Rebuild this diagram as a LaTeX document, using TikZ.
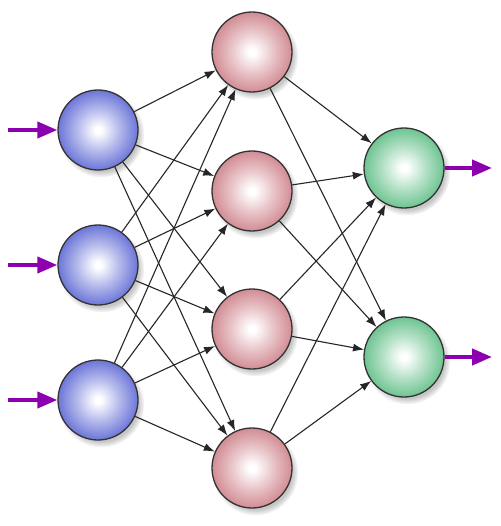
\documentclass[tikz,border=0pt]{standalone}
\usetikzlibrary{arrows.meta,shadows}
\definecolor{nb}{RGB}{108,118,216}
\definecolor{np}{RGB}{210,140,148}
\definecolor{ng}{RGB}{110,196,145}
\definecolor{pur}{RGB}{140,0,175}
\pgfdeclareradialshading{sblue}{\pgfpoint{0bp}{0bp}}{color(0bp)=(white); color(2bp)=(white); color(13bp)=(nb!50!white); color(25bp)=(nb); color(50bp)=(nb)}
\pgfdeclareradialshading{spink}{\pgfpoint{0bp}{0bp}}{color(0bp)=(white); color(2bp)=(white); color(13bp)=(np!50!white); color(25bp)=(np); color(50bp)=(np)}
\pgfdeclareradialshading{sgreen}{\pgfpoint{0bp}{0bp}}{color(0bp)=(white); color(2bp)=(white); color(13bp)=(ng!50!white); color(25bp)=(ng); color(50bp)=(ng)}
\tikzset{
  neuron/.style={circle, minimum size=80pt, inner sep=0pt, draw=black!80, line width=1.3pt,
    circular drop shadow={shadow xshift=3pt, shadow yshift=-4pt, opacity=0.45, shadow scale=1.08}},
  inp/.style={neuron, shading=sblue},
  hid/.style={neuron, shading=spink},
  outp/.style={neuron, shading=sgreen},
  conn/.style={-{Latex[length=11pt,width=8pt]}, line width=1.1pt, draw=black!85},
  ioarrow/.style={-{Triangle[length=20pt,width=16pt]}, line width=4pt, draw=pur, fill=pur}
}
\begin{document}
\begin{tikzpicture}[x=1pt,y=-1pt]
\useasboundingbox (0,0) rectangle (500,526);
\node[inp] (i1) at (98,130) {};
\node[inp] (i2) at (98,265) {};
\node[inp] (i3) at (98,400) {};
\node[hid] (h1) at (252,52) {};
\node[hid] (h2) at (252,191) {};
\node[hid] (h3) at (252,329) {};
\node[hid] (h4) at (252,468) {};
\node[outp] (o1) at (404,168) {};
\node[outp] (o2) at (404,357) {};
\coordinate (a1) at (8,130);
\coordinate (a2) at (8,265);
\coordinate (a3) at (8,400);
\coordinate (b1) at (492,168);
\coordinate (b2) at (492,357);
\foreach \i in {1,2,3}{
  \foreach \h in {1,2,3,4}{
    \draw[conn] (i\i) -- (h\h);
  }
  \draw[ioarrow] (a\i) -- (i\i.west);
}
\foreach \h in {1,2,3,4}{
  \foreach \o in {1,2}{
    \draw[conn] (h\h) -- (o\o);
  }
}
\draw[ioarrow] (o1.east) -- (b1);
\draw[ioarrow] (o2.east) -- (b2);
\end{tikzpicture}
\end{document}
